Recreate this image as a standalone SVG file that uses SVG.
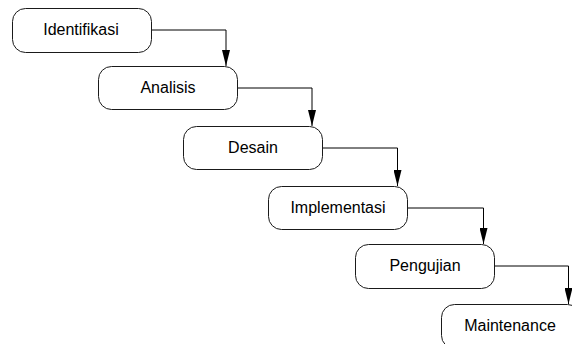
<svg xmlns="http://www.w3.org/2000/svg" width="572" height="344" viewBox="0 0 572 344">
  <style>
    .box { fill: #ffffff; stroke: #1a1a1a; stroke-width: 1; }
    .label { font-family: "Liberation Sans", Arial, sans-serif; font-size: 16px; fill: #000000; text-anchor: middle; }
    .link { fill: none; stroke: #000000; stroke-width: 1; marker-end: url(#arrow); }
  </style>
  <defs>
    <marker id="arrow" markerUnits="userSpaceOnUse" markerWidth="16" markerHeight="8" viewBox="0 0 16 8" refX="16" refY="4" orient="auto">
      <path d="M0,0 L16,4 L0,8 Z" fill="#000000"/>
    </marker>
  </defs>
  <rect width="572" height="344" fill="#ffffff"/>

  <!-- step connectors -->
  <g id="connectors">
    <path class="link" d="M151.5,30 H226 V66"/>
    <path class="link" d="M237.5,88 H312 V126"/>
    <path class="link" d="M322.5,148 H397.5 V186"/>
    <path class="link" d="M407.5,208 H483.5 V244"/>
    <path class="link" d="M494.5,266 H568.5 V304"/>
  </g>

  <g id="identifikasi">
    <rect class="box" x="12.5" y="8.5" width="139" height="44" rx="13"/>
    <text class="label" x="81" y="35">Identifikasi</text>
  </g>
  <g id="analisis">
    <rect class="box" x="98.5" y="66.5" width="139" height="43" rx="13"/>
    <text class="label" x="168" y="93">Analisis</text>
  </g>
  <g id="desain">
    <rect class="box" x="183.5" y="126.5" width="139" height="43" rx="13"/>
    <text class="label" x="253" y="153">Desain</text>
  </g>
  <g id="implementasi">
    <rect class="box" x="268.5" y="186.5" width="139" height="43" rx="13"/>
    <text class="label" x="338" y="213">Implementasi</text>
  </g>
  <g id="pengujian">
    <rect class="box" x="355.5" y="244.5" width="139" height="44" rx="13"/>
    <text class="label" x="425" y="271">Pengujian</text>
  </g>
  <g id="maintenance">
    <rect class="box" x="441.5" y="304.5" width="139" height="44" rx="13"/>
    <text class="label" x="510" y="331">Maintenance</text>
  </g>
</svg>
